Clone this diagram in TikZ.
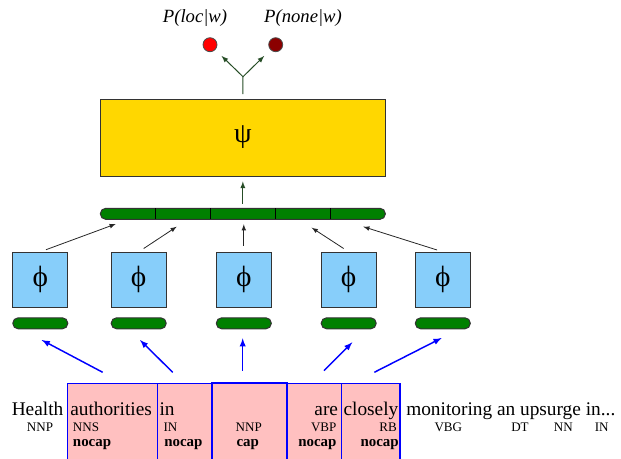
\documentclass[tikz,border=0pt]{standalone}
\usepackage{fontspec}
\setmainfont{Liberation Serif}
\usetikzlibrary{calc}

\definecolor{psigold}{HTML}{FFD700}
\definecolor{phiblue}{HTML}{87CEFA}
\definecolor{featgreen}{HTML}{008000}
\definecolor{stemgreen}{HTML}{264D26}
\definecolor{wordpink}{HTML}{FFC0C0}
\definecolor{nonered}{HTML}{8B0000}

\tikzset{
    phibox/.style={draw=black!80, fill=phiblue, line width=0.75pt,
                   minimum width=41.25pt, minimum height=41.25pt,
                   inner sep=0pt, font=\fontsize{22}{24}\selectfont},
    pill/.style={draw=black!80, fill=featgreen, line width=0.75pt,
                 rounded corners=4pt, minimum width=41.25pt,
                 minimum height=8.25pt, inner sep=0pt},
    outdot/.style={circle, draw=black!70, line width=0.6pt,
                   minimum size=10.5pt, inner sep=0pt},
    word/.style={inner sep=0pt, font=\fontsize{14.5}{17}\selectfont},
    tag/.style={inner sep=0pt, font=\fontsize{9.8}{11}\selectfont},
    capflag/.style={inner sep=0pt, font=\fontsize{11.2}{13}\selectfont\bfseries},
    wordbox/.style={draw=blue, fill=wordpink, line width=0.8pt},
    featarrow/.style={->, black!85, line width=0.6pt},
    inarrow/.style={->, blue, line width=1.1pt},
    stemarrow/.style={->, stemgreen, line width=0.75pt},
}

\begin{document}
\begin{tikzpicture}[
        >=latex, x=0.75pt, y=-0.75pt,
    ]
    \useasboundingbox (0,0) rectangle (621,458);

    % output layer
    \node[outdot, fill=red] (ploc) at (210,44.7) {};
    \node[outdot, fill=nonered] (pnone) at (275.7,44.7) {};
    \node[inner sep=0pt, font=\fontsize{14}{16}\selectfont\itshape] (ploclbl) at (195,18) {P(loc|w)};
    \node[inner sep=0pt, font=\fontsize{14}{16}\selectfont\itshape] (pnonelbl) at (303,18) {P(none|w)};

    \node[draw=black!80, fill=psigold, line width=0.75pt, inner sep=0pt,
          minimum width=213.75pt, minimum height=57.75pt,
          font=\fontsize{21}{23}\selectfont] (psi) at (242.85,137.5) {ψ};

    \coordinate (fork) at (243,76.7);
    \draw[stemgreen, line width=0.75pt, shorten <=3.2pt] (psi.north) -- (fork);
    \draw[stemarrow, shorten >=6.5pt] (fork) -- (ploc);
    \draw[stemarrow, shorten >=6.5pt] (fork) -- (pnone);

    % concatenated features
    \node[pill, minimum width=213.75pt] (agg) at (242.85,213.8) {};
    \foreach \d in {155.3,210,275.7,330.3}
        \draw[line width=0.75pt] (\d,208.3) -- (\d,219.3);
    \draw[stemarrow, shorten <=3.2pt, shorten >=3.7pt] (agg.north) -- (psi.south);

    \coordinate (seg1) at (115.7,224);
    \coordinate (seg2) at (176.7,226.7);
    \coordinate (seg3) at (243.8,224.3);
    \coordinate (seg4) at (311.7,227.7);
    \coordinate (seg5) at (363.3,226.7);

    % per-word feature extractors
    \foreach \x [count=\i] in {40.3,138.7,243.8,348.7,442.8} {
        \node[phibox] (phi\i) at (\x,279.8) {ϕ};
        \node[pill] (lab\i) at (\x,323.3) {};
        \draw[featarrow, shorten <=4.5pt] (phi\i.north) -- (seg\i);
    }

    % inputs
    \coordinate (t1) at (102.7,372.3); \coordinate (h1) at (41.7,340);
    \coordinate (t2) at (172.7,372.3); \coordinate (h2) at (140,340);
    \coordinate (t3) at (242.7,370.7); \coordinate (h3) at (242.7,338.3);
    \coordinate (t4) at (324,370.7);   \coordinate (h4) at (352.3,342.3);
    \coordinate (t5) at (374.3,372.3); \coordinate (h5) at (441.7,338);
    \foreach \i in {1,...,5}
        \draw[inarrow] (t\i) -- (h\i);

    \draw[wordbox] (67.7,383.3) rectangle (157.7,470);
    \draw[wordbox] (157.7,383.3) rectangle (212,470);
    \draw[wordbox] (286.7,383.3) rectangle (341.7,470);
    \draw[wordbox] (341.7,383.3) rectangle (400,470);
    \draw[wordbox, line width=1.6pt] (212,383.3) rectangle (286.7,470);

    \node[word, anchor=base west] (w0) at (11.5,415) {Health};
    \node[word, anchor=base west] (w1) at (70,415) {authorities};
    \node[word, anchor=base west] (w2) at (159.3,415) {in};
    \node[word, anchor=base east] (w4) at (338.3,415) {are};
    \node[word, anchor=base west] (w5) at (343.3,415) {closely};
    \node[word, anchor=base west] (w6) at (406,415) {monitoring an upsurge in...};

    \node[tag, anchor=base] (p0) at (40,431) {NNP};
    \node[tag, anchor=base west] (p1) at (72.7,431) {NNS};
    \node[tag, anchor=base west] (p2) at (163.3,431) {IN};
    \node[tag, anchor=base] (p3) at (248.7,431) {NNP};
    \node[tag, anchor=base east] (p4) at (336.7,431) {VBP};
    \node[tag, anchor=base east] (p5) at (397,431) {RB};
    \node[tag, anchor=base] (p6) at (448.3,431) {VBG};
    \node[tag, anchor=base] (p7) at (520,431) {DT};
    \node[tag, anchor=base] (p8) at (563.3,431) {NN};
    \node[tag, anchor=base] (p9) at (601.7,431) {IN};

    \node[capflag, anchor=base west] (c1) at (72.7,446) {nocap};
    \node[capflag, anchor=base west] (c2) at (164,446) {nocap};
    \node[capflag, anchor=base] (c3) at (247.7,446) {cap};
    \node[capflag, anchor=base east] (c4) at (336.7,446) {nocap};
    \node[capflag, anchor=base east] (c5) at (399,446) {nocap};

    \end{tikzpicture}
\end{document}
